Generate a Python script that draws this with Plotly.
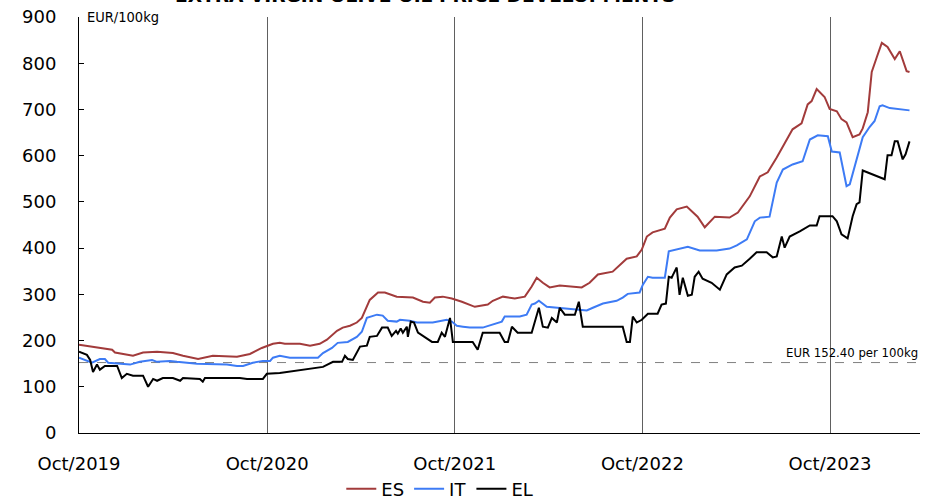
import numpy as np
import pandas as pd
import plotly.graph_objects as go

START = "2019-10-01"

# x values are weeks elapsed since 1 Oct 2019
es_weeks = [0, 3.6, 6.7, 9.2, 10.0, 15.0, 17.8, 21.7, 26.1, 28.9, 33.1, 37.2, 43.9, 47.5, 50.8, 53.9,
            55.8, 57.2, 61.4, 64.2, 66.9, 68.9, 71.7, 73.3, 75.3, 77.2, 78.6, 80.8, 83.1, 85.0, 88.3,
            92.8, 95.6, 97.5, 98.9, 101.1, 103.6, 106.4, 110.0, 111.4, 113.6, 115.0, 117.8, 121.1,
            123.9, 125.8, 127.2, 128.9, 130.8, 133.6, 136.4, 139.7, 141.9, 144.2, 148.3, 150.3, 152.2,
            155.0, 156.4, 157.8, 159.4, 162.8, 164.2, 166.1, 168.9, 171.9, 173.9, 176.7, 180.8, 183.1,
            186.4, 189.2, 191.4, 193.9, 196.7, 198.3, 200.8, 202.5, 203.6, 205.0, 207.2, 208.6, 210.6,
            211.9, 213.3, 215.0, 216.9, 217.8, 219.2, 220.3, 221.7, 223.1, 224.7, 226.7, 228.1, 230.0,
            230.8]
es_values = [191, 187, 182, 180, 174, 167, 174, 176, 173, 167, 160, 167, 165, 171, 184, 193,
             195, 193, 193, 189, 193, 202, 221, 228, 232, 239, 249, 288, 304, 304, 295,
             293, 284, 282, 293, 295, 291, 284, 273, 275, 278, 286, 295, 291,
             295, 317, 336, 325, 315, 319, 317, 315, 325, 343, 349, 364, 377,
             382, 397, 425, 434, 442, 466, 484, 490, 468, 445, 468, 466, 477,
             512, 555, 564, 596, 635, 657, 670, 711, 718, 744, 727, 701, 696,
             679, 672, 640, 646, 659, 694, 781, 813, 844, 835, 809, 826, 783,
             781]

it_weeks = [0, 2.5, 3.6, 5.8, 7.2, 8.1, 10.8, 14.2, 16.9, 19.7, 20.3, 21.7, 25.3, 27.2, 30.0, 32.8,
            41.1, 43.9, 45.6, 48.3, 51.1, 53.1, 53.9, 55.8, 58.6, 66.4, 67.8, 70.3, 71.9, 74.7, 77.2,
            78.6, 80.0, 82.8, 84.4, 85.8, 88.3, 89.2, 91.9, 93.9, 98.3, 100.8, 102.2, 103.6, 105.0,
            106.7, 108.6, 112.2, 115.0, 117.5, 118.3, 122.5, 124.4, 125.8, 126.7, 127.8, 130.0, 132.8,
            136.4, 141.1, 142.8, 145.6, 149.4, 151.1, 152.5, 155.8, 156.7, 158.1, 159.4, 162.8, 163.9,
            166.1, 169.2, 172.5, 177.2, 180.8, 182.8, 185.6, 187.8, 189.2, 191.9, 193.9, 195.6, 198.3,
            201.1, 203.1, 205.3, 208.1, 209.2, 211.4, 213.3, 214.2, 217.8, 219.7, 221.1, 222.5, 223.3,
            225.3, 230.8]
it_values = [163, 156, 152, 160, 160, 152, 150, 148, 154, 156, 158, 154, 156, 154, 152, 150,
             148, 145, 145, 152, 156, 156, 163, 167, 163, 163, 173, 184, 195, 197, 208,
             219, 249, 256, 254, 243, 241, 245, 243, 239, 239, 243, 245, 241, 232,
             230, 228, 228, 234, 241, 252, 252, 256, 278, 280, 286, 273, 271,
             267, 265, 271, 280, 286, 293, 301, 304, 321, 338, 336, 336, 393,
             397, 403, 395, 395, 399, 406, 419, 458, 466, 468, 542, 570, 581,
             588, 635, 644, 642, 609, 607, 534, 538, 640, 662, 675, 707, 709,
             703, 698]

el_weeks = [0, 2.2, 3.1, 3.9, 5.0, 5.8, 7.2, 10.6, 11.9, 13.3, 15.0, 17.8, 19.2, 20.6, 21.7, 23.3,
            26.1, 28.1, 28.9, 33.6, 34.4, 35.0, 44.7, 46.7, 51.1, 52.2, 55.8, 67.8, 70.6, 73.1, 73.9,
            74.7, 76.1, 78.1, 80.0, 80.8, 82.8, 84.2, 85.8, 86.9, 88.1, 88.6, 89.4, 90.0, 91.1, 91.4,
            92.2, 93.1, 94.2, 98.1, 99.7, 100.8, 101.7, 102.2, 103.1, 103.9, 109.4, 110.8, 112.2,
            116.9, 118.3, 119.2, 120.3, 121.9, 125.8, 127.8, 128.9, 130.3, 131.4, 132.8, 133.6, 135.0,
            137.8, 138.9, 140.0, 151.1, 152.2, 153.1, 153.9, 155.0, 156.4, 158.1, 160.8, 161.9, 163.1,
            163.9, 164.7, 165.0, 166.1, 166.9, 167.8, 169.2, 170.3, 171.1, 172.2, 173.3, 175.8, 178.1,
            180.0, 182.2, 184.2, 186.4, 188.3, 191.1, 192.8, 193.9, 195.3, 196.1, 197.5, 200.3, 203.1,
            205.0, 205.8, 209.4, 210.6, 211.9, 213.6, 215.0, 216.1, 216.9, 217.8, 223.9, 224.7, 225.8,
            226.7, 227.5, 228.9, 229.7, 230.8]
el_values = [176, 169, 158, 132, 148, 137, 145, 145, 119, 128, 124, 124, 100, 117, 113, 119,
             119, 113, 119, 117, 111, 119, 119, 117, 117, 128, 130, 143, 154, 154, 167,
             160, 158, 187, 189, 208, 210, 228, 228, 210, 221, 215, 226, 217, 230, 208,
             241, 239, 217, 197, 197, 217, 208, 221, 249, 197, 197, 180, 217,
             217, 197, 197, 230, 217, 217, 271, 230, 228, 249, 239, 271, 256,
             256, 284, 230, 230, 197, 197, 252, 239, 245, 258, 258, 278, 280,
             338, 336, 341, 358, 299, 336, 297, 299, 338, 349, 334, 325, 310,
             343, 358, 362, 377, 391, 391, 380, 382, 425, 401, 425, 436, 449,
             449, 469, 469, 458, 430, 421, 469, 495, 499, 568, 549, 601, 601,
             631, 631, 592, 603, 631]

REF_LEVEL = 152.40
X_END = "2024-03-24"
y_ticks = list(range(0, 1000, 100))


def to_dates(weeks):
    return pd.Timestamp(START) + pd.to_timedelta(np.array(weeks) * 7, unit="D")


series = [
    ("ES", es_weeks, es_values, "#A23B3B"),
    ("IT", it_weeks, it_values, "#3D7BF5"),
    ("EL", el_weeks, el_values, "#000000"),
]

fig = go.Figure()
for name, wk, vals, col in series:
    fig.add_trace(go.Scatter(x=to_dates(wk), y=vals, mode="lines", name=name,
                             line=dict(color=col, width=2)))

fig.add_shape(type="line", xref="x", yref="y", x0=START, x1=X_END, y0=REF_LEVEL, y1=REF_LEVEL,
              line=dict(color="#808080", width=1, dash="dash"), layer="below")

fig.add_annotation(xref="x", yref="y", x=X_END, y=REF_LEVEL, text="EUR 152.40 per 100kg",
                   showarrow=False, xanchor="right", yanchor="bottom", yshift=1,
                   font=dict(family="DejaVu Sans Condensed", size=13, color="#000"))
fig.add_annotation(xref="paper", yref="y", x=0, y=900, text="EUR/100kg",
                   showarrow=False, xanchor="left", yanchor="middle", xshift=6,
                   font=dict(family="DejaVu Sans Condensed", size=14.5, color="#000"))
fig.add_annotation(xref="paper", yref="paper", x=0.411, y=1,
                   text="<b>EXTRA VIRGIN OLIVE OIL PRICE DEVELOPMENTS</b>",
                   showarrow=False, xanchor="center", yanchor="bottom", yshift=9,
                   font=dict(family="DejaVu Sans", size=18.6, color="#000"))

fig.update_layout(
    width=928, height=499,
    margin=dict(l=79, r=8, t=17, b=66, autoexpand=False),
    paper_bgcolor="white", plot_bgcolor="white",
    font=dict(family="DejaVu Sans", size=18, color="#000"),
    showlegend=True,
    legend=dict(orientation="h", x=0.429, xanchor="center", y=-0.135, yanchor="middle",
                font=dict(size=18), itemwidth=30, tracegroupgap=0),
    xaxis=dict(type="date", range=[START, X_END], tick0=START, dtick="M12",
               tickformat="%b/%Y", showgrid=True, gridcolor="#606060", gridwidth=1,
               showline=True, linecolor="#000", linewidth=1, ticks="",
               ticklabelstandoff=14, zeroline=False, tickfont=dict(size=18),
               ticklabeloverflow="allow"),
    yaxis=dict(range=[0, 900], tickvals=y_ticks, showgrid=False, showline=True,
               linecolor="#000", linewidth=1, ticks="inside", ticklen=5, tickcolor="#000",
               ticklabelstandoff=18, zeroline=False, tickfont=dict(size=18),
               ticklabeloverflow="allow"),
)

fig.write_html("out.html", config={"displayModeBar": False},
               post_script="document.body.style.margin='0';")
